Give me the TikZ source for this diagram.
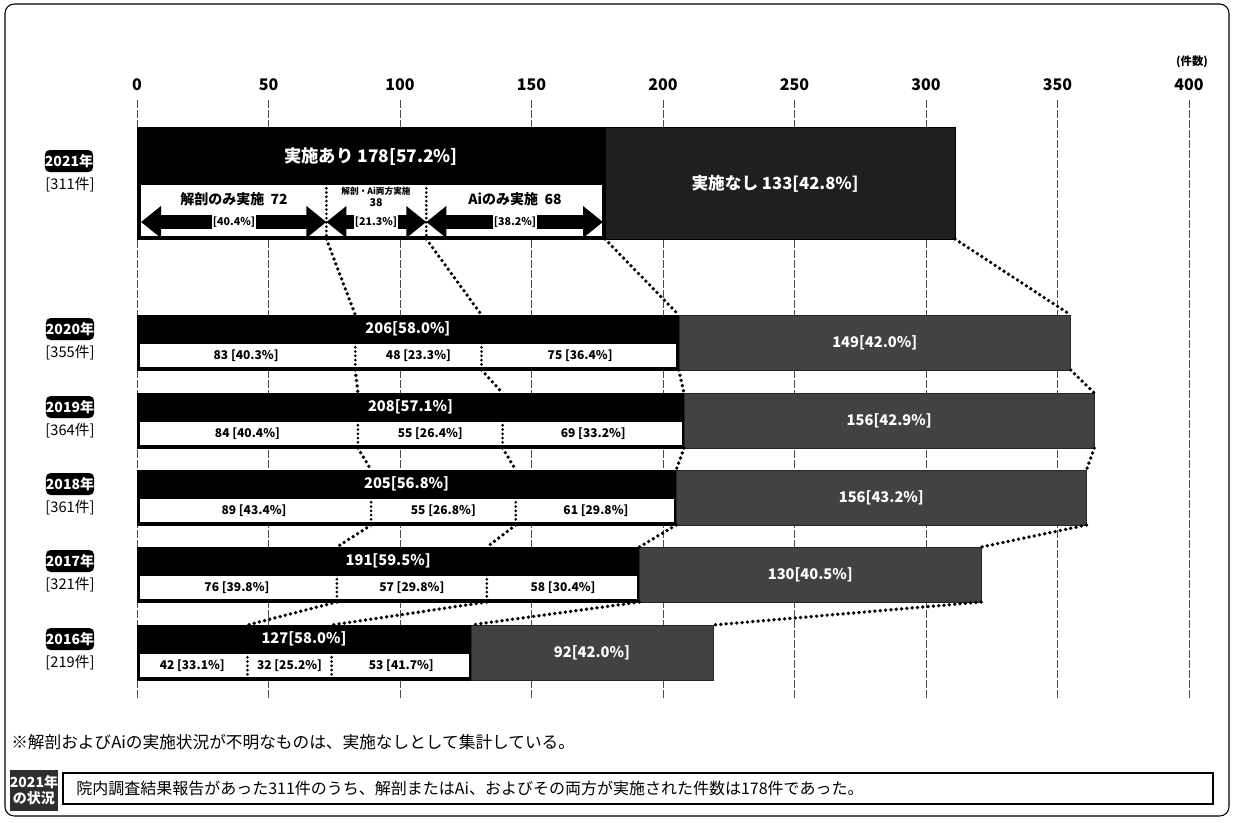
\documentclass[tikz,border=0pt]{standalone}
\usepackage{fontspec}
\setmainfont{Noto Sans CJK JP}
\usetikzlibrary{arrows.meta,fit}
\tikzset{
 blk/.style={fill=black, draw=black, inner sep=0pt},
 gry/.style={fill=black!74, draw=black!85, inner sep=0pt},
 gryd/.style={fill=black!88, draw=black, inner sep=0pt},
 wht/.style={fill=white, draw=black, line width=1.2pt, inner sep=0pt},
 btxt/.style={text=white, font=\bfseries\fontsize{11}{12}\selectfont, inner sep=0pt},
 gtxt/.style={text=white, font=\bfseries\fontsize{11}{12}\selectfont, inner sep=0pt},
 stxt/.style={text=black, font=\bfseries\fontsize{9}{10}\selectfont, inner sep=0pt},
 yearbox/.style={fill=black, rounded corners=3.5pt, text=white, font=\bfseries\fontsize{10.5}{12}\selectfont, minimum width=36pt, minimum height=16.5pt, inner sep=0pt},
 yearcnt/.style={font=\fontsize{11}{12}\selectfont, inner sep=0pt},
 conn/.style={line width=2.8pt, dash pattern=on 0pt off 4pt, line cap=round},
 divl/.style={line width=2.2pt, dash pattern=on 0pt off 3.2pt, line cap=round},
 gridl/.style={black!70, line width=0.5pt, dash pattern=on 6pt off 1.5pt},
 axl/.style={font=\bfseries\fontsize{12}{13}\selectfont, inner sep=0pt},
 fat/.style={line width=10pt, {Triangle[length=15pt,width=23pt]}-{Triangle[length=15pt,width=23pt]}},
 alab/.style={fill=white, text=black, font=\bfseries\fontsize{10.5}{12}\selectfont, inner sep=1pt},
 plab/.style={fill=white, text=black, font=\bfseries\fontsize{8}{9}\selectfont, inner sep=1pt},
}
\newcommand\yrowbars[6]{%
 \pgfmathsetmacro\xa{137+#3*2.63}%
 \pgfmathsetmacro\xb{137+(#3+#4)*2.63}%
 \pgfmathsetmacro\xc{137+(#3+#4+#5)*2.63}%
 \pgfmathsetmacro\xt{137+#6*2.63}%
 \pgfmathsetmacro\yb{#2+55}%
 \pgfmathsetmacro\ym{#2+28}%
 \node[blk, fit={(137,#2) (\xc,\yb)}] (#1k) {};
 \node[wht, fit={(139.5,\ym) ({\xc-1.5},{\yb-2})}] (#1w) {};
 \node[gry, fit={(\xc,#2) (\xt,\yb)}] (#1g) {};
 \coordinate (#1ta) at (\xa,#2); \coordinate (#1tb) at (\xb,#2);
 \coordinate (#1tc) at (\xc,#2); \coordinate (#1tt) at (\xt,#2);
 \coordinate (#1ma) at (\xa,\ym); \coordinate (#1mb) at (\xb,\ym);
 \coordinate (#1ba) at (\xa,\yb); \coordinate (#1bb) at (\xb,\yb);
 \coordinate (#1bc) at (\xc,\yb); \coordinate (#1bt) at (\xt,\yb);
 \coordinate (#1lk) at ({(137+\xc)/2},{#2+14});
 \coordinate (#1lg) at ({(\xc+\xt)/2},{#2+27.5});
 \coordinate (#1la) at ({(137+\xa)/2},{#2+41});
 \coordinate (#1lb) at ({(\xa+\xb)/2},{#2+41});
 \coordinate (#1lc) at ({(\xb+\xc)/2},{#2+41});
 \coordinate (#1yr) at (70,{#2+14});
 \coordinate (#1yc) at (70,{#2+38});
 \draw[divl] (#1ma) -- (#1ba);
 \draw[divl] (#1mb) -- (#1bb);
}
\newcommand\yrowtext[9]{%
 \node[btxt] (#1tk) at (#1lk) {#2};
 \node[gtxt] (#1tg) at (#1lg) {#3};
 \node[stxt] (#1t1) at (#1la) {#4};
 \node[stxt] (#1t2) at (#1lb) {#5};
 \node[stxt] (#1t3) at (#1lc) {#6};
 \node[yearbox] (#1y) at (#1yr) {#7};
 \node[yearcnt] (#1n) at (#1yc) {#8};
}
\begin{document}
\begin{tikzpicture}[x=0.75pt,y=-0.75pt]
\useasboundingbox (0,0) rectangle (1234,822);
\node[draw, rounded corners=7pt, line width=0.8pt, inner sep=0pt, fit={(5,4) (1229,816)}] (frame) {};
% axis
\foreach \v in {0,50,...,400}{
 \draw[gridl] ({137+\v*2.63},100) -- ({137+\v*2.63},700);
 \node[axl] (ax\v) at ({137+\v*2.63},85) {\v};
}
\node[font=\bfseries\fontsize{8.5}{9}\selectfont, inner sep=0pt] (unit) at (1192,62) {(件数)};
% 2021
\node[blk, fit={(137,127) (605,239)}] (r21k) {};
\node[wht, fit={(140,184) (603,236.5)}] (r21w) {};
\node[gryd, fit={(605,127) (955,239)}] (r21g) {};
\coordinate (r21ta) at (326.4,184); \coordinate (r21tb) at (426.3,184);
\coordinate (r21ba) at (326.4,239); \coordinate (r21bb) at (426.3,239);
\coordinate (r21bc) at (605,239); \coordinate (r21bt) at (955,239);
\draw[divl] (r21ta) -- (r21ba);
\draw[divl] (r21tb) -- (r21bb);
\coordinate (r21s0) at (141,222); \coordinate (r21sa) at (326.4,222);
\coordinate (r21sb) at (426.3,222); \coordinate (r21sc) at (603,222);
\draw[fat] (r21s0) -- (r21sa);
\draw[fat] (r21sa) -- (r21sb);
\draw[fat] (r21sb) -- (r21sc);
\node[text=white, font=\bfseries\fontsize{13}{14}\selectfont, inner sep=0pt] (r21tk) at (371,157) {実施あり 178[57.2\%]};
\node[text=white, font=\bfseries\fontsize{12.5}{14}\selectfont, inner sep=0pt] (r21tg) at (775,184) {実施なし 133[42.8\%]};
\node[alab] (r21a1) at (234,199) {解剖のみ実施\ \ 72};
\node[plab] (r21a2) at (234,222) {[40.4\%]};
\node[fill=white, font=\bfseries\fontsize{6.5}{7}\selectfont, inner sep=0.5pt] (r21b1) at (376,191) {解剖・Ai両方実施};
\node[fill=white, font=\bfseries\fontsize{8}{9}\selectfont, inner sep=0.5pt] (r21b2) at (376,203) {38};
\node[plab] (r21b3) at (376,222) {[21.3\%]};
\node[alab] (r21c1) at (515,199) {Aiのみ実施\ \ 68};
\node[plab] (r21c2) at (515,222) {[38.2\%]};
\node[yearbox] (r21y) at (69,161) {2021年};
\node[yearcnt] (r21n) at (70,185) {[311件]};
% rows
\yrowbars{r20}{315}{83}{48}{75}{355}
\yrowtext{r20}{206[58.0\%]}{149[42.0\%]}{83 [40.3\%]}{48 [23.3\%]}{75 [36.4\%]}{2020年}{[355件]}{}
\yrowbars{r19}{393}{84}{55}{69}{364}
\yrowtext{r19}{208[57.1\%]}{156[42.9\%]}{84 [40.4\%]}{55 [26.4\%]}{69 [33.2\%]}{2019年}{[364件]}{}
\yrowbars{r18}{470}{89}{55}{61}{361}
\yrowtext{r18}{205[56.8\%]}{156[43.2\%]}{89 [43.4\%]}{55 [26.8\%]}{61 [29.8\%]}{2018年}{[361件]}{}
\yrowbars{r17}{547}{76}{57}{58}{321}
\yrowtext{r17}{191[59.5\%]}{130[40.5\%]}{76 [39.8\%]}{57 [29.8\%]}{58 [30.4\%]}{2017年}{[321件]}{}
\yrowbars{r16}{625}{42}{32}{53}{219}
\yrowtext{r16}{127[58.0\%]}{92[42.0\%]}{42 [33.1\%]}{32 [25.2\%]}{53 [41.7\%]}{2016年}{[219件]}{}
% connectors
\draw[conn] (r21ba) -- (r20ta); \draw[conn] (r21bb) -- (r20tb);
\draw[conn] (r21bc) -- (r20tc); \draw[conn] (r21bt) -- (r20tt);
\draw[conn] (r20ba) -- (r19ta); \draw[conn] (r20bb) -- (r19tb);
\draw[conn] (r20bc) -- (r19tc); \draw[conn] (r20bt) -- (r19tt);
\draw[conn] (r19ba) -- (r18ta); \draw[conn] (r19bb) -- (r18tb);
\draw[conn] (r19bc) -- (r18tc); \draw[conn] (r19bt) -- (r18tt);
\draw[conn] (r18ba) -- (r17ta); \draw[conn] (r18bb) -- (r17tb);
\draw[conn] (r18bc) -- (r17tc); \draw[conn] (r18bt) -- (r17tt);
\draw[conn] (r17ba) -- (r16ta); \draw[conn] (r17bb) -- (r16tb);
\draw[conn] (r17bc) -- (r16tc); \draw[conn] (r17bt) -- (r16tt);
% footer
\node[anchor=west, font=\fontsize{12.5}{14}\selectfont, inner sep=0pt] (note) at (11,742) {※解剖およびAiの実施状況が不明なものは、実施なしとして集計している。};
\node[fill=black!82, inner sep=0pt, fit={(10,770) (58,811)}] (stbox) {};
\node[text=white, font=\bfseries\fontsize{10.5}{12}\selectfont, align=center, inner sep=0pt] (sttxt) at (stbox) {2021年\\の状況};
\node[draw, line width=1pt, inner sep=0pt, fit={(63,773) (1213,804)}] (sumbox) {};
\node[anchor=west, font=\fontsize{12}{14}\selectfont, inner sep=0pt] (sumtxt) at (76,788.5) {院内調査結果報告があった311件のうち、解剖またはAi、およびその両方が実施された件数は178件であった。};
\end{tikzpicture}
\end{document}
